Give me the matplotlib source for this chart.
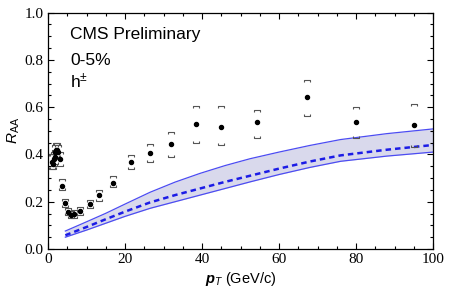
import numpy as np
import matplotlib
matplotlib.use("Agg")
import matplotlib.pyplot as plt
from matplotlib.path import Path
from matplotlib.ticker import MultipleLocator

# CMS charged hadron points
pt = [1.1, 1.3, 1.5, 1.7, 1.9, 2.1, 2.3, 2.6, 3.0, 3.6, 4.4, 5.2, 6.0, 6.8, 8.4,
      10.8, 13.2, 16.8, 21.6, 26.4, 32.0, 38.4, 44.8, 54.4, 67.2, 80.0, 95.0]
raa = [0.37, 0.36, 0.38, 0.39, 0.41, 0.42, 0.42, 0.41, 0.38, 0.265, 0.195, 0.158, 0.145, 0.147, 0.161,
       0.191, 0.227, 0.279, 0.369, 0.405, 0.444, 0.528, 0.517, 0.537, 0.641, 0.537, 0.524]
sys_lo = [0.34, 0.34, 0.35, 0.36, 0.38, 0.39, 0.39, 0.38, 0.35, 0.25, 0.178, 0.142, 0.13, 0.132, 0.145,
          0.172, 0.205, 0.262, 0.34, 0.368, 0.39, 0.45, 0.441, 0.471, 0.562, 0.471, 0.43]
sys_hi = [0.40, 0.40, 0.41, 0.42, 0.44, 0.45, 0.45, 0.44, 0.41, 0.296, 0.212, 0.175, 0.162, 0.165, 0.176,
          0.207, 0.248, 0.307, 0.399, 0.445, 0.496, 0.605, 0.605, 0.588, 0.717, 0.599, 0.613]

# theory band
band_pt = [4.5, 10, 15, 20, 26.5, 33, 39.5, 46, 52.5, 60, 68, 76, 88, 100]
band_hi = [0.076, 0.115, 0.151, 0.19, 0.24, 0.283, 0.32, 0.353, 0.382, 0.41, 0.438, 0.463, 0.488, 0.508]
band_mid = [0.058, 0.093, 0.126, 0.158, 0.197, 0.228, 0.256, 0.284, 0.31, 0.34, 0.37, 0.396, 0.42, 0.44]
band_lo = [0.05, 0.08, 0.109, 0.138, 0.172, 0.2, 0.228, 0.256, 0.284, 0.315, 0.345, 0.371, 0.393, 0.41]

plt.rcParams["mathtext.fontset"] = "custom"
plt.rcParams["mathtext.rm"] = "Liberation Sans"
plt.rcParams["mathtext.it"] = "Liberation Sans:italic"
plt.rcParams["mathtext.bf"] = "Liberation Sans:bold"
plt.rcParams["mathtext.bfit"] = "Liberation Sans:italic:bold"

fig = plt.figure(figsize=(4.5, 3), dpi=100)
ax = fig.add_axes([0.1067, 0.17, 0.8556, 0.788])

ax.fill_between(band_pt, band_lo, band_hi, color="#d9d9ec", lw=0)
ax.plot(band_pt, band_hi, color="#4c4cf2", lw=0.9)
ax.plot(band_pt, band_lo, color="#4c4cf2", lw=0.9)
ax.plot(band_pt, band_mid, color="#1c1ce6", lw=1.8, dashes=(2.2, 1.6))

# bracket shaped markers for the systematic errors
top_cap = Path([(-1, -0.7), (-1, 0), (1, 0), (1, -0.7)],
               [Path.MOVETO, Path.LINETO, Path.LINETO, Path.LINETO])
bot_cap = Path([(-1, 0.7), (-1, 0), (1, 0), (1, 0.7)],
               [Path.MOVETO, Path.LINETO, Path.LINETO, Path.LINETO])
ax.plot(pt, sys_hi, ls="none", marker=top_cap, ms=4, mew=0.8, mfc="none", mec="#555555")
ax.plot(pt, sys_lo, ls="none", marker=bot_cap, ms=4, mew=0.8, mfc="none", mec="#555555")
ax.plot(pt, raa, ls="none", marker="o", ms=2.9, color="black")

ax.set_xlim(0, 100)
ax.set_ylim(0, 1.0)
ax.xaxis.set_major_locator(MultipleLocator(20))
ax.xaxis.set_minor_locator(MultipleLocator(5))
ax.yaxis.set_major_locator(MultipleLocator(0.2))
ax.yaxis.set_minor_locator(MultipleLocator(0.05))
ax.tick_params(which="both", direction="in", top=True, right=True, width=0.8)
ax.tick_params(which="major", length=4, labelsize=11, pad=3)
ax.tick_params(which="minor", length=2)
ax.set_yticklabels([f"{v:.1f}" for v in ax.get_yticks()])
for lab in ax.get_xticklabels() + ax.get_yticklabels():
    lab.set_family("Liberation Serif")
for s in ax.spines.values():
    s.set_linewidth(0.9)

ax.set_xlabel(r"$\mathbfit{p}_{T}$ (GeV/c)", family="Liberation Sans", fontsize=10.5, labelpad=3)
ax.set_ylabel(r"$R_{\mathrm{AA}}$", family="Liberation Sans", fontsize=11, labelpad=2)

ax.text(0.057, 0.94, "CMS Preliminary", transform=ax.transAxes, family="Liberation Sans",
        fontsize=12.5, va="top", ha="left")
ax.text(0.057, 0.83, "0-5%", transform=ax.transAxes, family="Liberation Sans",
        fontsize=12.5, va="top", ha="left")
ax.text(0.057, 0.75, r"h$^{\pm}$", transform=ax.transAxes, family="Liberation Sans",
        fontsize=12.5, va="top", ha="left")

fig.savefig("out.png", dpi=100)
